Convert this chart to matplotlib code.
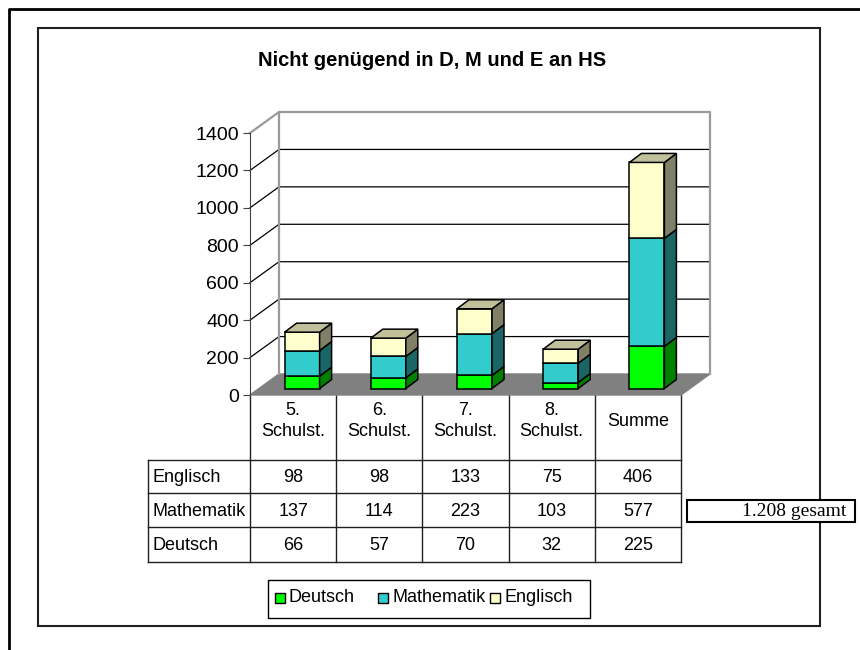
import matplotlib
matplotlib.use("Agg")
import matplotlib.pyplot as plt
from matplotlib.patches import Polygon, Rectangle
from matplotlib.lines import Line2D

# ---------------- data ----------------
categories = ["5.\nSchulst.", "6.\nSchulst.", "7.\nSchulst.", "8.\nSchulst.", "Summe"]
deutsch = [66, 57, 70, 32, 225]
mathematik = [137, 114, 223, 103, 577]
englisch = [98, 98, 133, 75, 406]
series_names = ["Deutsch", "Mathematik", "Englisch"]
yticks = [0, 200, 400, 600, 800, 1000, 1200, 1400]
title = "Nicht genügend in D, M und E an HS"
total_label = "1.208 gesamt"

# ---------------- styles ----------------
plt.rcParams["font.family"] = ["Liberation Sans", "DejaVu Sans"]
front_cols = ["#00FF00", "#33CCCC", "#FFFFCC"]
side_cols = ["#008000", "#1A6666", "#808066"]
top_cols = ["#00C000", "#29A3A3", "#C0C09A"]
FS = 13

W, H = 860, 650
fig = plt.figure(figsize=(W / 100, H / 100), dpi=100)
bg = fig.add_axes([0, 0, 1, 1])
bg.set_xlim(0, W)
bg.set_ylim(H, 0)
bg.axis("off")

# outer + inner frames
bg.add_line(Line2D([9, 9, W], [H, 9, 9], color="black", lw=2))
bg.add_patch(Rectangle((38, 28), 782, 598, fill=False, ec="#202020", lw=1.5))

# title
bg.text(432, 60, title, ha="center", va="center", fontsize=14.5, fontweight="bold")

# ---------------- chart axes (front plane) ----------------
PX_L, PX_R, PX_B, PX_T = 250, 681, 395, 133
n = len(categories)
ax = fig.add_axes([PX_L / W, (H - PX_B) / H, (PX_R - PX_L) / W, (PX_B - PX_T) / H])
ax.set_xlim(-0.5, n - 0.5)
ax.set_ylim(yticks[0], yticks[-1])
ax.patch.set_visible(False)
for s in ["top", "right", "bottom"]:
    ax.spines[s].set_visible(False)
ax.spines["left"].set_color("#404040")
ax.set_xticks([])
ax.set_yticks(yticks)
ax.tick_params(axis="y", direction="out", length=5, labelsize=14, pad=3, color="#404040")

cpp = n / (PX_R - PX_L)          # category units per pixel
vpp = (yticks[-1] - yticks[0]) / (PX_B - PX_T)  # value units per pixel


def off(dx, dy):
    return dx * cpp, dy * vpp


DX, DY = off(29, 21)
x0, x1 = -0.5, n - 0.5
top = yticks[-1]

# floor
ax.add_patch(Polygon([(x0, 0), (x1, 0), (x1 + DX, DY), (x0 + DX, DY)], closed=True,
                     fc="#808080", ec="#808080", lw=1, clip_on=False, zorder=1))
# gridlines
for v in yticks[1:-1]:
    ax.plot([x0, x0 + DX, x1 + DX], [v, v + DY, v + DY], color="black", lw=0.9,
            clip_on=False, zorder=1)
# wall borders
ax.plot([x0, x0 + DX, x1 + DX, x1 + DX], [top, top + DY, top + DY, DY], color="#9a9a9a",
        lw=1.6, clip_on=False, zorder=1)
ax.plot([x0 + DX, x0 + DX], [DY, top + DY], color="#9a9a9a", lw=1.6, clip_on=False, zorder=1)

# bars
FX, FY = off(9, 6.5)
BDX, BDY = off(12, 9)
BW = 35 * cpp
series = [deutsch, mathematik, englisch]
for i in range(n):
    bottom = 0
    for k, vals in enumerate(series):
        h = vals[i]
        bx = i - BW / 2 + FX
        by = bottom + FY
        ax.add_patch(Rectangle((bx, by), BW, h, fc=front_cols[k], ec="black", lw=1.1,
                               clip_on=False, zorder=3))
        ax.add_patch(Polygon([(bx + BW, by), (bx + BW + BDX, by + BDY),
                              (bx + BW + BDX, by + h + BDY), (bx + BW, by + h)], closed=True,
                             fc=side_cols[k], ec="black", lw=1.1, clip_on=False, zorder=3))
        if k == len(series) - 1:
            ax.add_patch(Polygon([(bx, by + h), (bx + BDX, by + h + BDY),
                                  (bx + BW + BDX, by + h + BDY), (bx + BW, by + h)],
                                 closed=True, fc=top_cols[k], ec="black", lw=1.1,
                                 clip_on=False, zorder=3))
        bottom += h

# ---------------- data table ----------------
LC = "#202020"
col_w = (PX_R - PX_L) / n
col_edges = [PX_L + j * col_w for j in range(n + 1)]
HDR_B = 460
row_edges = [HDR_B, 493, 527, 562]
LBL_L = 148
for j, xe in enumerate(col_edges):
    bg.plot([xe, xe], [PX_B, row_edges[-1]], color=LC, lw=1)
bg.plot([LBL_L, LBL_L], [HDR_B, row_edges[-1]], color=LC, lw=1)
for ye in row_edges:
    bg.plot([LBL_L, PX_R], [ye, ye], color=LC, lw=1)

for j, c in enumerate(categories):
    bg.text((col_edges[j] + col_edges[j + 1]) / 2, 421, c,
            ha="center", va="center", fontsize=FS, linespacing=1.25)

rows = list(zip(series_names, series))[::-1]
for r, (name, vals) in enumerate(rows):
    yc = (row_edges[r] + row_edges[r + 1]) / 2 + 1
    bg.text(LBL_L + 5, yc, name, ha="left", va="center", fontsize=FS)
    for j, v in enumerate(vals):
        bg.text((col_edges[j] + col_edges[j + 1]) / 2, yc, str(v), ha="center",
                va="center", fontsize=FS)

# ---------------- legend ----------------
bg.add_patch(Rectangle((268, 580), 322, 38, fill=False, ec="black", lw=1))
leg_sq_x = [275, 378, 490]
for k, name in enumerate(series_names):
    bg.add_patch(Rectangle((leg_sq_x[k], 593), 10, 10, fc=front_cols[k], ec="black", lw=1))
    bg.text(leg_sq_x[k] + 14, 598, name, ha="left", va="center", fontsize=FS)

# ---------------- total box ----------------
bg.add_patch(Rectangle((687, 500), 168, 22, fc="white", ec="black", lw=1.5, zorder=5))
bg.text(846, 511, total_label, ha="right", va="center", fontsize=14,
        family=["Liberation Serif", "DejaVu Serif"], zorder=6)

fig.savefig("out.png", dpi=100)
